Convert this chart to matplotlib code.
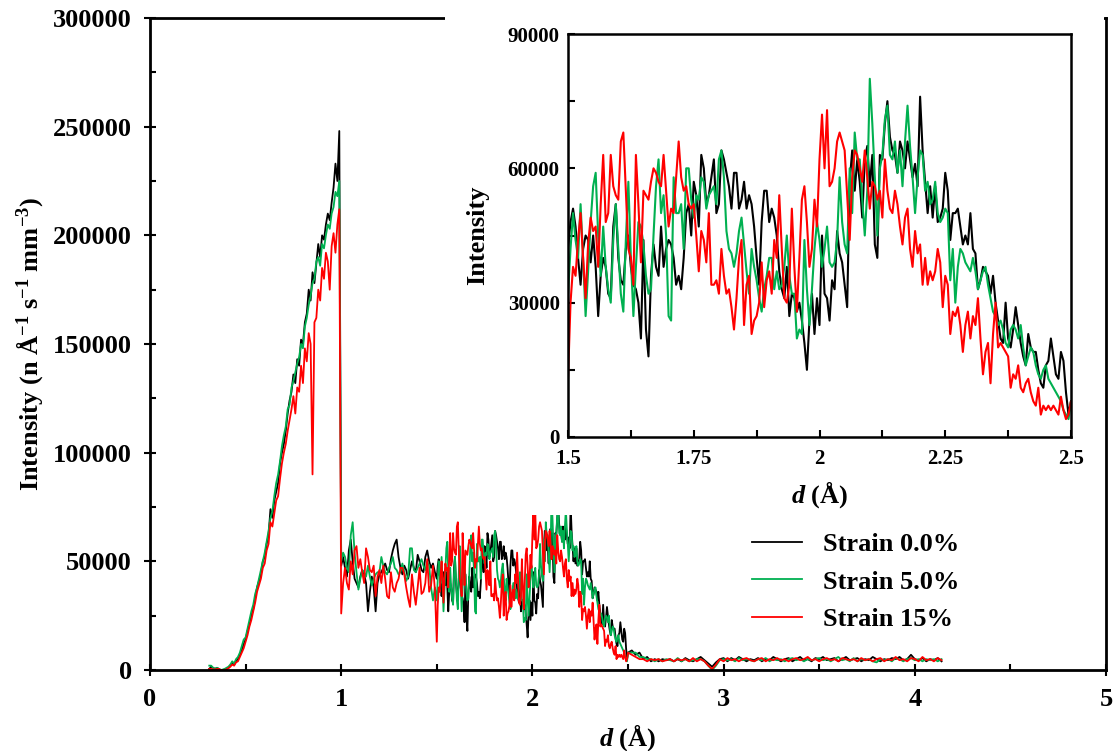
import numpy as np
import matplotlib
matplotlib.use('Agg')
import matplotlib.pyplot as plt
from matplotlib.patches import Rectangle
from matplotlib.ticker import MultipleLocator, FuncFormatter

plt.rcParams['font.family'] = 'Liberation Serif'
plt.rcParams['font.weight'] = 'bold'
plt.rcParams['axes.labelweight'] = 'bold'
plt.rcParams['mathtext.fontset'] = 'custom'
plt.rcParams['mathtext.rm'] = 'Liberation Serif:bold'
plt.rcParams['mathtext.bf'] = 'Liberation Serif:bold'
plt.rcParams['mathtext.it'] = 'Liberation Serif:bold:italic'
plt.rcParams['mathtext.default'] = 'bf'

labels = ['Strain 0.0%', 'Strain 5.0%', 'Strain 15%']
colors = ['black', '#00b050', '#ff0000']

# intensities in units of 1000, four d ranges with their own sampling
# rising edge, d = 0.31 .. 0.99 step 0.01
black_rise = [0.5, 1.5, 1, 0.5, 1, 0.5, 0, 0, 0.2, 0.5,
              1, 2, 3, 2.5, 4, 5, 7, 9, 12, 14,
              18, 21, 25, 28, 33, 38, 41, 44, 50, 52,
              58, 62, 74, 70, 78, 82, 86, 95, 100, 104,
              110, 118, 124, 128, 136, 132, 143, 140, 152, 150,
              160, 164, 175, 170, 183, 178, 187, 196, 190, 200,
              198, 205, 210, 207, 215, 222, 233, 225, 248]
green_rise = [2, 2, 1, 0.5, 1, 0.5, 0, 0.2, 0.5, 1,
              1.5, 2.5, 4, 3, 5, 6, 8, 11, 14, 15,
              19, 23, 27, 30, 35, 38, 42, 46, 50, 54,
              59, 64, 70, 73, 80, 86, 90, 96, 103, 108,
              112, 120, 122, 130, 133, 137, 141, 144, 150, 148,
              158, 162, 168, 172, 178, 180, 188, 190, 186, 196,
              194, 200, 205, 203, 210, 213, 220, 218, 225]
red_rise = [0.5, 0.5, 0.3, 0.2, 0.5, 0.5, 0, 0, 0, 0.3,
            0.8, 1.5, 2.5, 2, 3.5, 4, 6, 8, 10, 13,
            16, 20, 23, 27, 31, 36, 39, 42, 47, 49,
            55, 58, 68, 66, 72, 78, 80, 88, 95, 100,
            104, 110, 115, 120, 126, 118, 130, 128, 140, 132,
            148, 142, 155, 150, 90, 160, 162, 175, 170, 185,
            180, 192, 188, 175, 195, 201, 192, 205, 212]

# after the edge, d = 1.00 .. 1.49 step 0.01
black_a = [48, 52, 47, 43, 55, 60, 50, 42, 40, 38,
           43, 46, 44, 40, 27, 36, 43, 38, 27, 40,
           44, 45, 47, 49, 46, 45, 51, 55, 58, 60,
           52, 47, 44, 48, 46, 42, 46, 50, 47, 45,
           53, 50, 46, 45, 52, 55, 50, 47, 49, 45]
green_a = [50, 54, 52, 47, 45, 62, 68, 54, 45, 37,
           42, 46, 45, 43, 48, 43, 39, 42, 44, 45,
           45, 52, 48, 45, 44, 47, 49, 52, 47, 46,
           44, 45, 49, 45, 41, 43, 56, 56, 46, 45,
           47, 49, 51, 48, 46, 50, 48, 38, 32, 38]
red_a = [26, 40, 47, 40, 37, 50, 44, 55, 57, 47,
         51, 45, 40, 56, 52, 46, 45, 48, 34, 43,
         46, 40, 48, 42, 34, 33, 45, 38, 36, 40,
         42, 47, 47, 44, 38, 33, 29, 44, 36, 30,
         38, 47, 35, 36, 40, 51, 36, 39, 48, 37]

# zoomed range, d = 1.500 .. 2.500 step 0.005
black_mid = [42, 48, 51, 47, 40, 34, 42, 45, 44, 39, 45, 38, 27, 36, 40, 38, 32, 31, 47, 52,
             40, 35, 34, 42, 45, 38, 34, 33, 30, 22, 44, 24, 18, 36, 43, 38, 36, 47, 38, 42,
             44, 43, 40, 34, 36, 33, 40, 50, 52, 45, 57, 54, 47, 63, 60, 52, 54, 58, 62, 50,
             52, 64, 62, 59, 56, 51, 59, 59, 51, 53, 57, 51, 54, 52, 47, 40, 34, 48, 55, 55,
             48, 51, 49, 45, 37, 33, 31, 38, 27, 32, 31, 28, 30, 26, 21, 15, 26, 32, 23, 31,
             25, 45, 32, 31, 26, 35, 33, 46, 41, 39, 34, 29, 57, 64, 55, 62, 57, 49, 62, 65,
             56, 63, 43, 40, 63, 62, 70, 75, 67, 64, 63, 59, 66, 64, 60, 66, 62, 58, 61, 56,
             76, 64, 57, 50, 56, 49, 56, 48, 49, 51, 59, 55, 44, 50, 50, 51, 47, 43, 45, 43,
             50, 42, 41, 33, 35, 38, 37, 36, 32, 36, 30, 26, 22, 21, 30, 22, 20, 24, 29, 25,
             21, 18, 16, 23, 20, 19, 19, 15, 12, 11, 16, 17, 22, 18, 14, 13, 19, 17, 10, 5,
             8]
green_mid = [32, 42, 50, 44, 40, 52, 40, 27, 37, 48, 56, 59, 45, 36, 47, 38, 33, 30, 44, 52,
             42, 32, 28, 44, 57, 40, 27, 38, 48, 47, 43, 36, 32, 33, 45, 56, 62, 50, 54, 45,
             27, 26, 58, 50, 50, 52, 42, 60, 60, 53, 49, 54, 53, 58, 57, 51, 54, 55, 56, 52,
             62, 64, 58, 46, 42, 41, 38, 41, 46, 49, 43, 37, 32, 42, 38, 35, 31, 28, 33, 36,
             40, 40, 33, 37, 33, 34, 38, 45, 36, 32, 32, 22, 24, 23, 44, 33, 25, 33, 42, 48,
             44, 38, 42, 47, 39, 38, 39, 44, 58, 48, 43, 41, 60, 50, 68, 62, 62, 53, 45, 55,
             80, 70, 58, 45, 60, 63, 71, 74, 63, 62, 66, 59, 64, 56, 66, 74, 65, 58, 50, 58,
             64, 63, 55, 57, 52, 53, 57, 50, 48, 49, 51, 50, 35, 42, 30, 38, 42, 41, 39, 38,
             37, 40, 37, 33, 35, 37, 38, 34, 31, 28, 27, 25, 26, 24, 21, 20, 24, 25, 24, 22,
             25, 20, 16, 18, 20, 19, 16, 14, 13, 15, 16, 13, 12, 11, 10, 9, 8, 6, 5, 4,
             8]
red_mid = [13, 30, 38, 36, 44, 50, 40, 31, 43, 49, 46, 47, 38, 52, 63, 48, 50, 63, 56, 54,
           53, 66, 68, 55, 42, 40, 34, 63, 52, 39, 55, 54, 53, 57, 60, 59, 57, 56, 63, 55,
           47, 51, 50, 58, 66, 58, 55, 56, 52, 51, 52, 45, 37, 46, 44, 39, 50, 34, 34, 35,
           32, 42, 36, 32, 33, 29, 24, 31, 40, 44, 25, 34, 36, 23, 26, 27, 30, 39, 29, 35,
           37, 32, 44, 40, 54, 42, 31, 30, 34, 51, 38, 28, 40, 53, 56, 48, 38, 42, 53, 47,
           62, 72, 60, 73, 56, 57, 60, 66, 68, 66, 64, 54, 44, 58, 64, 63, 60, 57, 64, 58,
           51, 57, 56, 53, 55, 49, 62, 55, 51, 50, 55, 52, 47, 43, 49, 51, 42, 38, 46, 41,
           43, 34, 40, 34, 37, 35, 37, 42, 39, 29, 36, 34, 23, 28, 27, 29, 25, 19, 25, 28,
           22, 27, 25, 31, 22, 14, 19, 21, 12, 23, 30, 20, 21, 20, 19, 18, 11, 14, 13, 16,
           11, 10, 12, 13, 10, 8, 7, 11, 5, 7, 6, 7, 6, 7, 6, 5, 9, 6, 4, 5,
           8]

# background tail, d = 2.52 .. 4.14 step 0.02
black_t = [9, 7, 8, 5, 6, 4, 5, 4, 5, 4.5, 5, 4, 5, 4, 5.5, 4.5, 4, 5, 6, 4.5,
           3, 1.5, 3.5, 5, 5.5, 4, 5.5, 4.5, 6, 5, 4, 5, 4.5, 5.5, 4, 5, 4.5, 6, 5, 4,
           5, 5.5, 4, 5, 6, 4.5, 5, 4, 5.5, 5, 6, 4.5, 5, 5.5, 4, 5, 6, 4.5, 5, 5.5,
           4, 5, 4.5, 6, 5, 4, 5, 4.5, 5.5, 5, 6, 4.5, 5, 7, 5, 4.5, 5.5, 4, 5, 4.5,
           5.5, 4]
green_t = [8, 8, 6, 6, 5, 5, 4, 5, 4, 5, 4.5, 4, 5.5, 4, 5, 4, 4.5, 5, 5, 4,
           2, 0, 2, 4.5, 5, 4.5, 5, 4, 5.5, 4.5, 5, 4.5, 4, 5, 4.5, 5.5, 4, 5, 4.5, 5,
           4, 5, 5.5, 4.5, 5, 4, 5, 4.5, 5, 5.5, 4.5, 5, 4, 5, 6, 4.5, 5, 4, 5.5, 4,
           5, 4.5, 5, 4, 3.5, 5, 4.5, 5, 4, 5.5, 5, 4, 5, 5.5, 4.5, 5, 4, 5, 4.5, 5,
           4, 5]
red_t = [7, 6, 5, 5, 4, 5, 4.5, 5, 4, 4.5, 5, 4, 5, 4.5, 5, 4, 5.5, 4, 5, 4,
         2, 0.5, 2.5, 5, 4, 5.5, 4.5, 5, 4, 5, 5.5, 4.5, 4, 5, 5.5, 4, 5, 4.5, 5.5, 4.5,
         5, 4, 5, 5.5, 4.5, 5, 6, 4.5, 5, 4, 5, 5.5, 4.5, 5, 4, 5.5, 5, 4.5, 5, 4,
         5.5, 4.5, 5, 4, 5, 5.5, 4, 5, 4.5, 6, 4.5, 5, 4, 5.5, 5, 4, 6, 4.5, 5, 4,
         5.5, 4.5]

d = np.concatenate([0.31 + 0.01 * np.arange(len(black_rise)),
                    1.00 + 0.01 * np.arange(len(black_a)),
                    1.50 + 0.005 * np.arange(len(black_mid)),
                    2.52 + 0.02 * np.arange(len(black_t))])
series = []
for parts in [(black_rise, black_a, black_mid, black_t),
              (green_rise, green_a, green_mid, green_t),
              (red_rise, red_a, red_mid, red_t)]:
    series.append(1000 * np.concatenate([np.array(p, float) for p in parts]))

W, H = 1114, 751
fig = plt.figure(figsize=(W / 100, H / 100), dpi=100)

# main plot
ax = fig.add_axes([150 / W, 81 / H, 956 / W, 652 / H])
for y, c, lab in zip(series, colors, labels):
    ax.plot(d, y, color=c, lw=1.3, label=lab)
ax.set_xlim(0, 5)
ax.set_ylim(0, 300000)
ax.xaxis.set_major_locator(MultipleLocator(1))
ax.xaxis.set_minor_locator(MultipleLocator(0.5))
ax.yaxis.set_major_locator(MultipleLocator(50000))
ax.yaxis.set_minor_locator(MultipleLocator(25000))
ax.yaxis.set_major_formatter(FuncFormatter(lambda v, p: '%d' % v))
ax.tick_params(which='major', direction='inout', length=8, width=1.5, labelsize=19, pad=9)
ax.tick_params(which='minor', direction='in', length=4, width=1.5)
for s in ax.spines.values():
    s.set_linewidth(2)
ax.set_xlabel(r'$\mathit{d}$ (Å)', fontsize=19, labelpad=8)
ax.set_ylabel(r'Intensity (n Å$^{-1}$ s$^{-1}$ mm$^{-3}$)', fontsize=19, labelpad=6)
ax.legend(loc='upper left', bbox_to_anchor=(752 / W, 1 - 533 / H), bbox_transform=fig.transFigure,
          frameon=False, fontsize=19, handlelength=1.9, handletextpad=0.8,
          labelspacing=0.52, borderpad=0, borderaxespad=0)

# white panel under the inset
fig.add_artist(Rectangle((445 / W, 1 - 515 / H), (1104 - 445) / W, 515 / H,
                         transform=fig.transFigure, facecolor='white',
                         edgecolor='none', zorder=1))

# inset, same data
axin = fig.add_axes([568 / W, 1 - 437 / H, 503 / W, 403 / H])
axin.set_zorder(2)
for y, c in zip(series, colors):
    axin.plot(d, y, color=c, lw=1.5)
axin.set_xlim(1.5, 2.5)
axin.set_ylim(0, 90000)
axin.xaxis.set_major_locator(MultipleLocator(0.25))
axin.xaxis.set_minor_locator(MultipleLocator(0.125))
axin.yaxis.set_major_locator(MultipleLocator(30000))
axin.yaxis.set_minor_locator(MultipleLocator(15000))
axin.xaxis.set_major_formatter(FuncFormatter(lambda v, p: '%g' % v))
axin.yaxis.set_major_formatter(FuncFormatter(lambda v, p: '%d' % v))
axin.tick_params(which='both', direction='in', length=5, width=1.5, labelsize=15)
axin.tick_params(axis='x', pad=9)
axin.tick_params(axis='y', pad=6)
for s in axin.spines.values():
    s.set_linewidth(1.8)
axin.set_xlabel(r'$\mathit{d}$ (Å)', fontsize=19, labelpad=7)
axin.set_ylabel('Intensity', fontsize=19, labelpad=13)

fig.savefig('out.png', dpi=100)
